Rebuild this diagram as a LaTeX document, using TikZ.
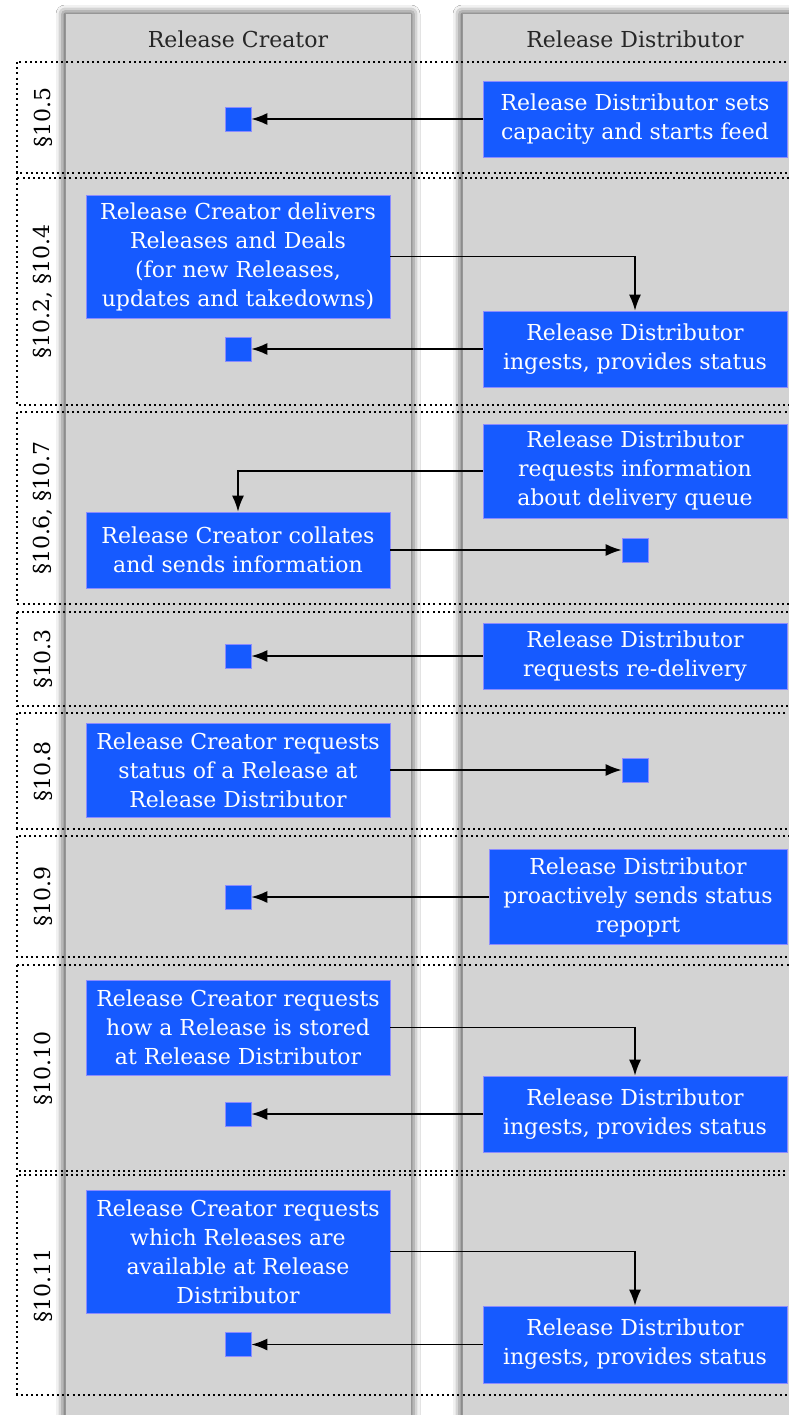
\documentclass[tikz,border=0pt]{standalone}
\usepackage{fontspec}
\setmainfont{DejaVu Serif}
\usepackage{tikz}
\usetikzlibrary{arrows.meta,shadows.blur}
\definecolor{lanegray}{RGB}{211,211,211}
\definecolor{lanerule}{RGB}{150,150,150}
\definecolor{actblue}{RGB}{22,90,255}
\definecolor{actedge}{RGB}{140,140,255}

\begin{document}
\begin{tikzpicture}[x=1pt,y=-1pt,
    every node/.style={font=\fontsize{22}{29}\selectfont},
    lanebox/.style={fill=lanegray,draw=lanerule,line width=1pt,
      blur shadow={shadow xshift=0pt,shadow yshift=0pt,shadow blur radius=9pt,shadow opacity=90}},
    sec/.style={draw=black,line width=1.1pt,dash pattern=on 2pt off 3.2pt},
    act/.style={fill=actblue,draw=actedge,line width=0.6pt,text=white,align=center,
      minimum width=304pt,inner sep=0pt},
    blip/.style={fill=actblue,draw=actedge,line width=0.6pt,minimum width=26pt,
      minimum height=24pt,inner sep=0pt},
    flow/.style={draw=black,line width=1.7pt,-{Latex[length=16pt,width=12pt]}}]
    \useasboundingbox (0,0) rectangle (789,1415);
    \clip (0,0) rectangle (789,1415);
    \fill[white] (0,0) rectangle (789,1415);
    \path[lanebox] (65,14) rectangle (411,1440);
    \path[lanebox] (462,14) rectangle (820,1440);
    \node[text=black!85] (rc) at (238,39) {Release Creator};
    \node[text=black!85] (rd) at (635,39) {Release Distributor};
    \foreach \t/\b/\lab/\n in {62/173/{§10.5}/1,178/405/{§10.2, §10.4}/2,
        412/604/{§10.6, §10.7}/3,612/706/{§10.3}/4,713/829/{§10.8}/5,
        836/957/{§10.9}/6,965/1171/{§10.10}/7,1175/1395/{§10.11}/8} {
      \draw[sec] (17,\t) rectangle (800,\b);
      \node[rotate=90] (sec\n) at (43,{(\t+\b)/2}) {\lab};
    }

    \node[act,minimum height=76pt] (d5) at (635,119) {Release Distributor sets\\capacity and starts feed};
    \node[blip] (s5) at (238,119) {};
    \draw[flow] (d5) -- (s5);

    \node[act,minimum height=123pt] (c24) at (238,256.5) {Release Creator delivers\\Releases and Deals\\(for new Releases,\\updates and takedowns)};
    \node[act,minimum height=76pt] (d24) at (635,349) {Release Distributor\\ingests, provides status};
    \node[blip] (s24) at (238,349) {};
    \draw[flow] (c24) -| (d24);
    \draw[flow] (d24) -- (s24);

    \node[act,minimum height=94pt] (d67) at (635,471) {Release Distributor\\requests information\\about delivery queue};
    \node[act,minimum height=76pt] (c67) at (238,550) {Release Creator collates\\and sends information};
    \node[blip] (s67) at (635,550) {};
    \draw[flow] (d67) -| (c67);
    \draw[flow] (c67) -- (s67);

    \node[act,minimum height=66pt] (d3) at (635,656) {Release Distributor\\requests re-delivery};
    \node[blip] (s3) at (238,656) {};
    \draw[flow] (d3) -- (s3);

    \node[act,minimum height=94pt] (c8) at (238,770) {Release Creator requests\\status of a Release at\\Release Distributor};
    \node[blip] (s8) at (635,770) {};
    \draw[flow] (c8) -- (s8);

    \node[act,minimum width=298pt,minimum height=95pt] (d9) at (638,897) {Release Distributor\\proactively sends status\\repoprt};
    \node[blip] (s9) at (238,897) {};
    \draw[flow] (d9) -- (s9);

    \node[act,minimum height=95pt] (c10) at (238,1027.5) {Release Creator requests\\how a Release is stored\\at Release Distributor};
    \node[act,minimum height=76pt] (d10) at (635,1114) {Release Distributor\\ingests, provides status};
    \node[blip] (s10) at (238,1114) {};
    \draw[flow] (c10) -| (d10);
    \draw[flow] (d10) -- (s10);

    \node[act,minimum height=123pt] (c11) at (238,1251.5) {Release Creator requests\\which Releases are\\available at Release\\Distributor};
    \node[act,minimum height=77pt] (d11) at (635,1344.5) {Release Distributor\\ingests, provides status};
    \node[blip] (s11) at (238,1344.5) {};
    \draw[flow] (c11) -| (d11);
    \draw[flow] (d11) -- (s11);
  \end{tikzpicture}
\end{document}
